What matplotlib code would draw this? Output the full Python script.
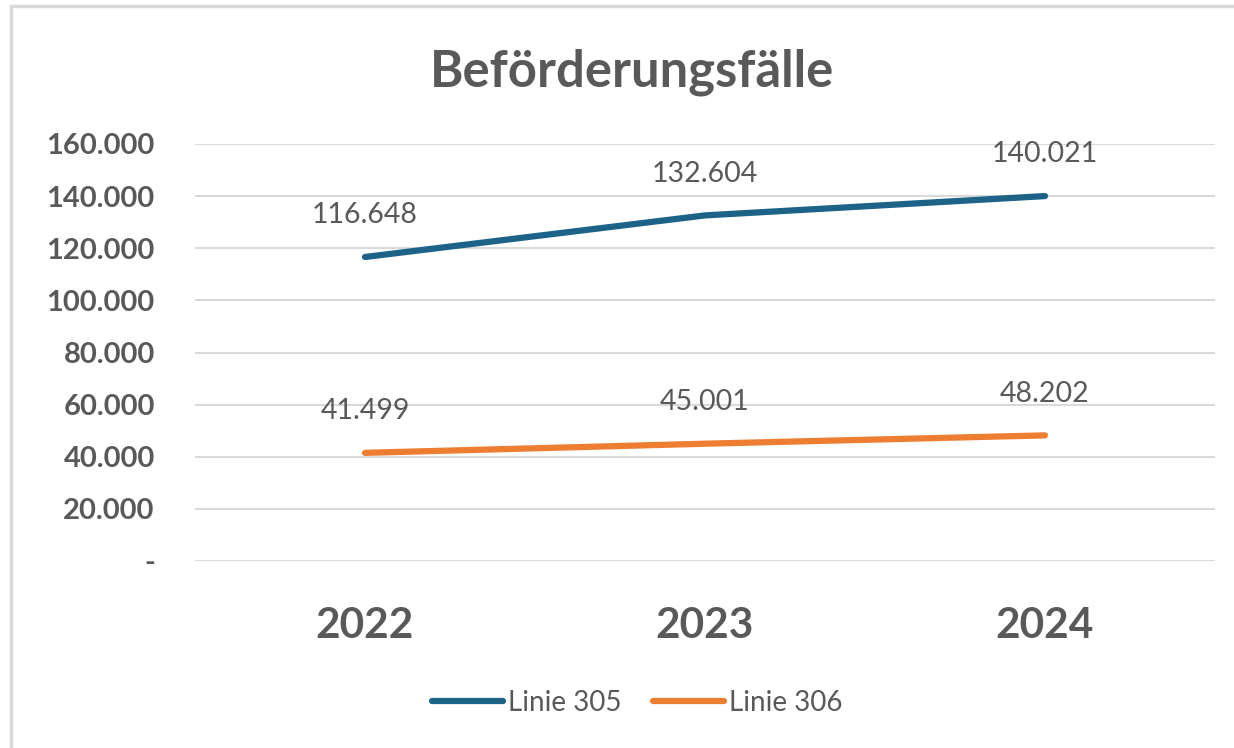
import matplotlib
matplotlib.use('Agg')
import matplotlib.pyplot as plt
from matplotlib.patches import Rectangle
from matplotlib.ticker import FuncFormatter

years = ['2022', '2023', '2024']
linie_305 = [116648, 132604, 140021]
linie_306 = [41499, 45001, 48202]
series_names = ['Linie 305', 'Linie 306']

blue = '#1D6287'
orange = '#ED7D31'
grey = '#595959'
grid_col = '#D9D9D9'

plt.rcParams['font.family'] = ['Lato', 'DejaVu Sans']

fig = plt.figure(figsize=(12.34, 7.48), dpi=100)
ax = fig.add_axes([195 / 1234, 1 - 561 / 748, 1020 / 1234, 417 / 748])

# outer chart frame (only top/left edges visible in the crop)
fig.patches.append(Rectangle((11 / 1234, -0.1), 1.2, 1 - 6 / 748 + 0.1,
                             transform=fig.transFigure, fill=False,
                             edgecolor=grid_col, linewidth=2.5))

x = range(len(years))
for vals, col, name in [(linie_305, blue, series_names[0]), (linie_306, orange, series_names[1])]:
    ax.plot(x, vals, color=col, linewidth=4.5, solid_capstyle='round', label=name)
    for xi, v in zip(x, vals):
        lbl = f'{v:,}'.replace(',', '.')
        ax.annotate(lbl, (xi, v), xytext=(0, 30), textcoords='offset points',
                    ha='center', va='center', fontsize=20.5, color=grey)

ax.set_xlim(-0.5, 2.5)
ax.set_ylim(0, 160000)
ax.set_yticks(range(0, 160001, 20000))
ax.yaxis.set_major_formatter(FuncFormatter(lambda v, p: '-' if v == 0 else f'{int(v):,}'.replace(',', '.')))
ax.set_xticks(list(x))
ax.set_xticklabels(years)

ax.grid(axis='y', color=grid_col, linewidth=1.5)
ax.set_axisbelow(True)
for s in ax.spines.values():
    s.set_visible(False)
ax.tick_params(axis='both', length=0)
ax.tick_params(axis='y', pad=29, labelsize=21, labelcolor=grey)
ax.tick_params(axis='x', pad=33, labelsize=30.5, labelcolor=grey)
for t in ax.get_yticklabels():
    t.set_fontweight('bold')
for t in ax.get_xticklabels():
    t.set_fontweight('bold')

fig.text(632 / 1234, 1 - 72 / 748, 'Beförderungsfälle', ha='center', va='center',
         fontsize=36.5, fontweight='bold', color=grey)

fig.legend(loc='center', bbox_to_anchor=(637 / 1234, 1 - 703 / 748), ncol=2,
           frameon=False, fontsize=20, labelcolor=grey, handlelength=2.55,
           handletextpad=0.18, columnspacing=1.15)

fig.savefig('out.png', dpi=100)
